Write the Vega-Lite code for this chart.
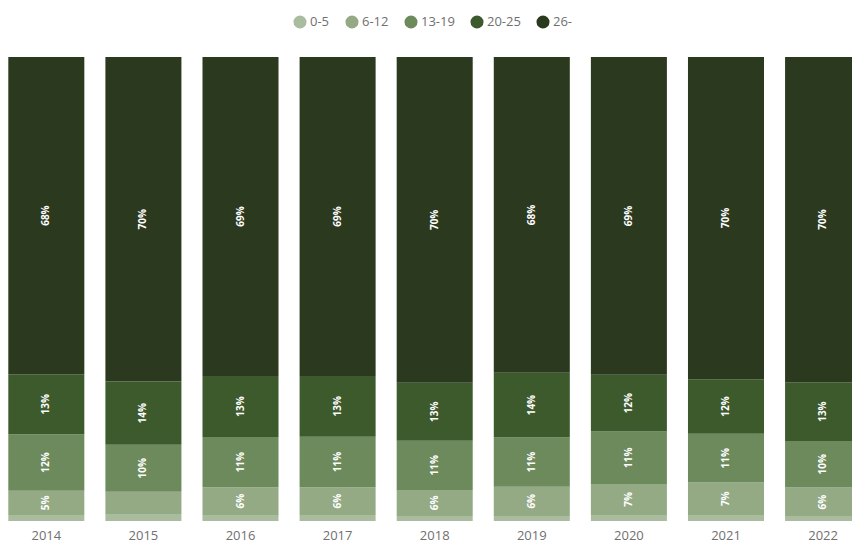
{
  "$schema": "https://vega.github.io/schema/vega-lite/v6.json",
  "width": 852,
  "height": 464,
  "autosize": "none",
  "padding": {"top": 57, "left": 0, "right": 0, "bottom": 26},
  "config": {"view": {"stroke": null}, "font": "Open Sans"},
  "data": {
    "values": [
      {"year": "2014", "g": "0-5", "v": 0.013}, {"year": "2014", "g": "6-12", "v": 0.052}, {"year": "2014", "g": "13-19", "v": 0.122}, {"year": "2014", "g": "20-25", "v": 0.129}, {"year": "2014", "g": "26-", "v": 0.683},
      {"year": "2015", "g": "0-5", "v": 0.015}, {"year": "2015", "g": "6-12", "v": 0.048}, {"year": "2015", "g": "13-19", "v": 0.101}, {"year": "2015", "g": "20-25", "v": 0.136}, {"year": "2015", "g": "26-", "v": 0.698},
      {"year": "2016", "g": "0-5", "v": 0.013}, {"year": "2016", "g": "6-12", "v": 0.060}, {"year": "2016", "g": "13-19", "v": 0.108}, {"year": "2016", "g": "20-25", "v": 0.132}, {"year": "2016", "g": "26-", "v": 0.688},
      {"year": "2017", "g": "0-5", "v": 0.013}, {"year": "2017", "g": "6-12", "v": 0.060}, {"year": "2017", "g": "13-19", "v": 0.109}, {"year": "2017", "g": "20-25", "v": 0.131}, {"year": "2017", "g": "26-", "v": 0.688},
      {"year": "2018", "g": "0-5", "v": 0.011}, {"year": "2018", "g": "6-12", "v": 0.056}, {"year": "2018", "g": "13-19", "v": 0.106}, {"year": "2018", "g": "20-25", "v": 0.125}, {"year": "2018", "g": "26-", "v": 0.702},
      {"year": "2019", "g": "0-5", "v": 0.011}, {"year": "2019", "g": "6-12", "v": 0.063}, {"year": "2019", "g": "13-19", "v": 0.106}, {"year": "2019", "g": "20-25", "v": 0.139}, {"year": "2019", "g": "26-", "v": 0.680},
      {"year": "2020", "g": "0-5", "v": 0.013}, {"year": "2020", "g": "6-12", "v": 0.067}, {"year": "2020", "g": "13-19", "v": 0.113}, {"year": "2020", "g": "20-25", "v": 0.122}, {"year": "2020", "g": "26-", "v": 0.685},
      {"year": "2021", "g": "0-5", "v": 0.013}, {"year": "2021", "g": "6-12", "v": 0.070}, {"year": "2021", "g": "13-19", "v": 0.105}, {"year": "2021", "g": "20-25", "v": 0.118}, {"year": "2021", "g": "26-", "v": 0.695},
      {"year": "2022", "g": "0-5", "v": 0.009}, {"year": "2022", "g": "6-12", "v": 0.063}, {"year": "2022", "g": "13-19", "v": 0.100}, {"year": "2022", "g": "20-25", "v": 0.127}, {"year": "2022", "g": "26-", "v": 0.700}
    ]
  },
  "transform": [
    {"calculate": "indexof(['0-5','6-12','13-19','20-25','26-'], datum.g)", "as": "k"},
    {"stack": "v", "groupby": ["year"], "sort": [{"field": "k", "order": "ascending"}], "offset": "normalize", "as": ["lo", "hi"]},
    {"calculate": "(datum.lo + datum.hi) / 2", "as": "mid"}
  ],
  "encoding": {
    "x": {
      "field": "year",
      "type": "ordinal",
      "scale": {"range": [0, 869.4], "paddingInner": 0.217, "paddingOuter": 0.0855},
      "axis": {"title": null, "domain": false, "ticks": false, "labelFontSize": 13, "labelColor": "#707070", "labelPadding": 8, "labelAngle": 0}
    }
  },
  "layer": [
    {
      "mark": {"type": "bar"},
      "encoding": {
        "y": {"field": "lo", "type": "quantitative", "scale": {"domain": [0, 1]}, "axis": null},
        "y2": {"field": "hi"},
        "color": {
          "field": "g",
          "type": "nominal",
          "scale": {"domain": ["0-5", "6-12", "13-19", "20-25", "26-"], "range": ["#a9bd9e", "#93aa85", "#6d8a5c", "#3d5a2d", "#2b3a1f"]},
          "legend": {"orient": "none", "legendX": 293, "legendY": -42, "direction": "horizontal", "title": null, "symbolType": "circle", "symbolSize": 170, "symbolStrokeWidth": 0, "symbolOpacity": 1, "labelFontSize": 13, "labelColor": "#707070", "labelOffset": 3, "columnPadding": 15}
        }
      }
    },
    {
      "transform": [{"filter": "datum.v >= 0.05"}],
      "mark": {"type": "text", "angle": 270, "color": "white", "fontSize": 10, "fontWeight": "bold"},
      "encoding": {
        "y": {"field": "mid", "type": "quantitative"},
        "text": {"field": "v", "format": ".0%"}
      }
    }
  ]
}
